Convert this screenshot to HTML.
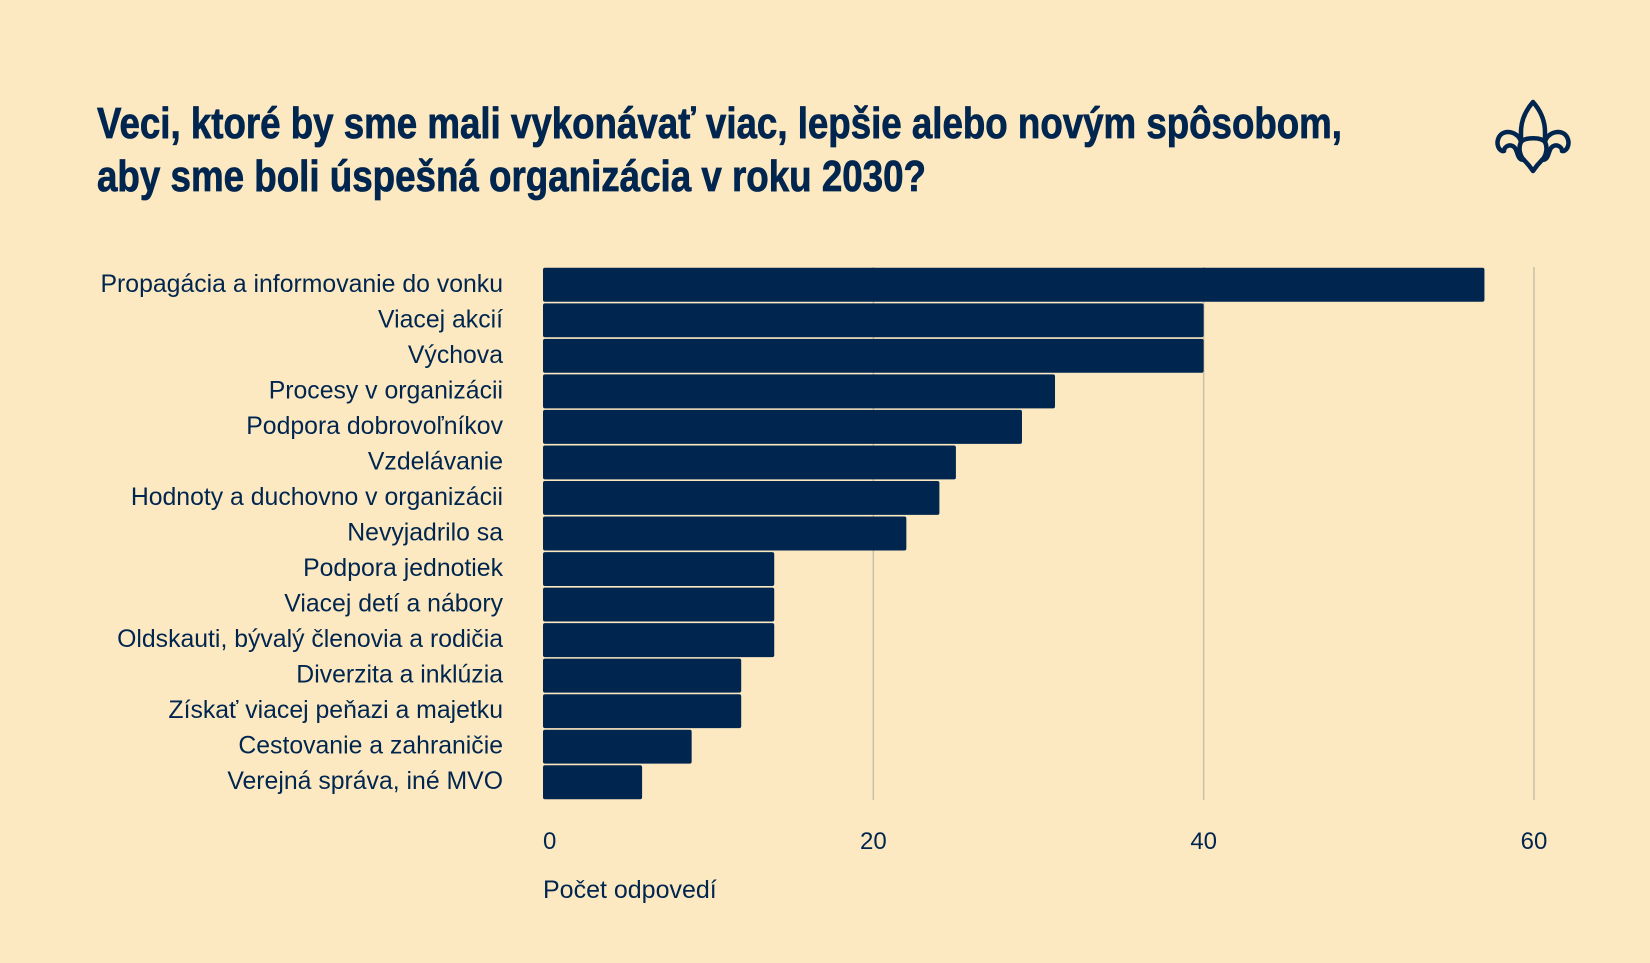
<!DOCTYPE html>
<html><head><meta charset="utf-8"><style>
html,body{margin:0;padding:0;background:#fde9c1;}
svg{display:block;}
</style></head><body>
<svg id="chart" width="1650" height="963" viewBox="0 0 1650 963" xmlns="http://www.w3.org/2000/svg">
<rect width="1650" height="963" fill="#fde9c1"/>
<g font-family="'Liberation Sans Narrow','Liberation Sans',sans-serif" font-weight="bold" font-size="44" fill="#002650" stroke="#002650" stroke-width="0.8">
<text x="97" y="138" textLength="1245" lengthAdjust="spacingAndGlyphs">Veci, ktoré by sme mali vykonávať viac, lepšie alebo novým spôsobom,</text>
<text x="97" y="191" textLength="829" lengthAdjust="spacingAndGlyphs">aby sme boli úspešná organizácia v roku 2030?</text>
</g>
<g fill="none" stroke="#002650" stroke-width="4.5" stroke-linejoin="round" stroke-linecap="round">
<path d="M1533 102 C1526 110 1521 120 1521 132 L1521 142 M1533 102 C1540 110 1545 120 1545 132 L1545 142"/>
<path d="M1521 142 C1519 132 1504 128 1499 137 C1495 145 1500 152 1504 151 C1504 146 1511 143 1515 148 C1518 152 1517 160 1524 160 C1528 164 1531 168 1533 171 C1535 168 1538 164 1542 160 C1549 160 1548 152 1551 148 C1555 143 1562 146 1562 151 C1566 152 1571 145 1567 137 C1562 128 1547 132 1545 142"/>
<path d="M1521 142 C1525 137 1541 137 1545 142 C1548 148 1546 156 1542 160 M1521 142 C1518 148 1520 156 1524 160"/>
</g>
<g id="grid"></g>
<g id="bars"></g>
<g id="labels" font-family="'Liberation Sans',sans-serif" font-size="24.8" fill="#002650" text-anchor="end"></g>
<g id="ticks" font-family="'Liberation Sans',sans-serif" font-size="24" fill="#002650"></g>
<text x="543" y="898" font-family="'Liberation Sans',sans-serif" font-size="25" fill="#002650">Počet odpovedí</text>
</svg>
<script>
const categories = ["Propagácia a informovanie do vonku","Viacej akcií","Výchova","Procesy v organizácii","Podpora dobrovoľníkov","Vzdelávanie","Hodnoty a duchovno v organizácii","Nevyjadrilo sa","Podpora jednotiek","Viacej detí a nábory","Oldskauti, bývalý členovia a rodičia","Diverzita a inklúzia","Získať viacej peňazi a majetku","Cestovanie a zahraničie","Verejná správa, iné MVO"];
const values = [57,40,40,31,29,25,24,22,14,14,14,12,12,9,6];
const tickValues = [0,20,40,60];
const tickLabels = ["0","20","40","60"];

const NS = "http://www.w3.org/2000/svg";
const x0 = 543, xMax = 60, xPx = 1534;
const yTop = 267, yBot = 800;
const band = (yBot - yTop) / categories.length;
function xScale(v){ return x0 + (xPx - x0) * v / xMax; }
function yScale(i){ return yTop + i * band; }
function mk(tag, attrs){ const e = document.createElementNS(NS, tag); for (const k in attrs) e.setAttribute(k, attrs[k]); return e; }

const grid = document.getElementById('grid');
const ticks = document.getElementById('ticks');
tickValues.forEach((t, i) => {
  if (t !== 0) {
    const l = mk('line', {x1: xScale(t), x2: xScale(t), y1: yTop, y2: yBot, stroke: '#c9bfa6', 'stroke-width': 1.5});
    
    
    grid.appendChild(l);
  }
  const tx = mk('text', {x: xScale(t), y: 849, 'text-anchor': t === 0 ? 'start' : 'middle'});
  tx.textContent = tickLabels[i];
  
  
  ticks.appendChild(tx);
});

const bars = document.getElementById('bars');
const labels = document.getElementById('labels');
categories.forEach((c, i) => {
  const y = yScale(i);
  const r = mk('rect', {x: x0, y: y + 0.8, width: xScale(values[i]) - x0, height: band - 1.6, rx: 2, fill: '#002650'});
  
  
  bars.appendChild(r);
  const t = mk('text', {x: 503, y: y + band / 2 + 7});
  t.textContent = c;
  
  
  labels.appendChild(t);
});
</script>
</body></html>
